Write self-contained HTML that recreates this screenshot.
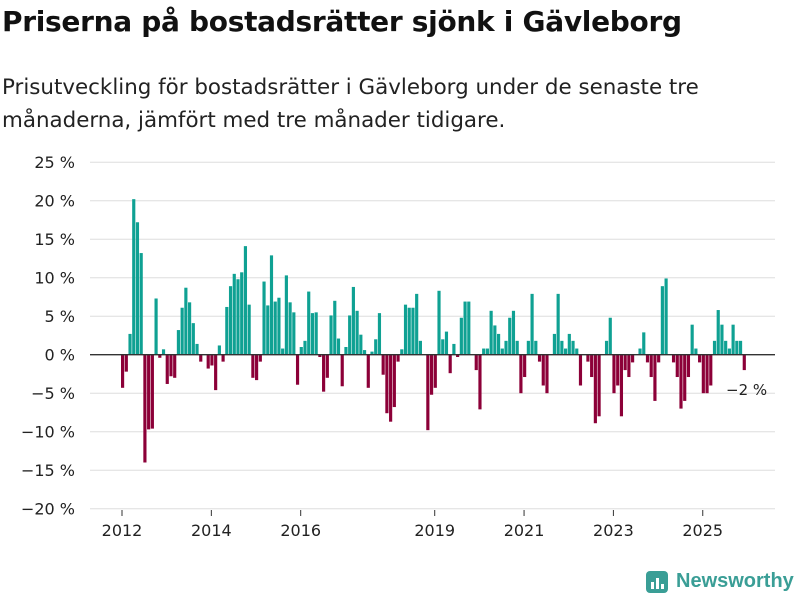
<!DOCTYPE html>
<html><head><meta charset="utf-8"><style>
body{margin:0;width:800px;height:600px;background:#fff;font-family:"Liberation Sans","DejaVu Sans",sans-serif;overflow:hidden;position:relative}
#title{position:absolute;left:2px;top:5px;font-size:28px;font-weight:bold;color:#111;font-family:"DejaVu Sans","Liberation Sans",sans-serif;letter-spacing:-0.3px}
#sub{position:absolute;left:2px;top:71px;font-size:21.4px;line-height:33px;color:#222;font-family:"DejaVu Sans","Liberation Sans",sans-serif}
svg{position:absolute;left:0;top:0}
#logo{position:absolute;left:646px;top:570px;display:flex;align-items:center;gap:8px;color:#3a9e96;font-weight:bold;font-size:20px;font-family:"Liberation Sans","DejaVu Sans",sans-serif}
</style></head><body>
<div id="title">Priserna på bostadsrätter sjönk i Gävleborg</div>
<div id="sub">Prisutveckling för bostadsrätter i Gävleborg under de senaste tre<br>månaderna, jämfört med tre månader tidigare.</div>
<svg id="chart" width="800" height="600"></svg>
<div id="logo"><svg width="22" height="22" style="position:static"><rect x="0" y="0" width="22" height="22" rx="4" fill="#3a9e96"/><rect x="5" y="11" width="3" height="7" fill="#fff"/><rect x="10" y="7" width="3" height="11" fill="#fff"/><rect x="15" y="13" width="3" height="5" fill="#fff"/></svg><span>Newsworthy</span></div>
<script>
const values=[-4.3,-2.2,2.7,20.2,17.2,13.2,-14,-9.7,-9.6,7.3,-0.4,0.7,-3.8,-2.8,-3.0,3.2,6.1,8.7,6.8,4.1,1.4,-0.9,0,-1.8,-1.4,-4.6,1.2,-0.9,
6.2,8.9,10.5,9.8,10.7,14.1,6.5,-3,-3.3,-0.9,9.5,6.4,12.9,6.9,7.4,0.8,10.3,6.8,5.5,-3.9,1,1.8,8.2,5.4,5.5,-0.3,-4.8,-3.0,
5.1,7.0,2.1,-4.1,1,5.1,8.8,5.7,2.6,0.6,-4.3,0.4,2,5.4,-2.6,-7.6,-8.7,-6.8,-0.9,0.7,6.5,6.1,6.1,7.9,1.8,0,-9.8,-5.2,
-4.3,8.3,2.0,3.0,-2.4,1.4,-0.3,4.8,6.9,6.9,0,-2,-7.1,0.8,0.8,5.7,3.8,2.7,0.8,1.8,4.8,5.7,1.8,-5.0,-2.9,1.8,7.9,1.8,
-0.9,-4.0,-5.0,0,2.7,7.9,1.8,0.8,2.7,1.8,0.8,-4.0,0,-0.9,-2.9,-8.9,-8.0,0,1.8,4.8,-5.0,-4.0,-8.0,-2.0,-2.9,-1.0,0,0.8,
2.9,-1.0,-2.9,-6.0,-1.0,8.9,9.9,0,-1.0,-2.9,-7.0,-6.0,-2.9,3.9,0.8,-1.0,-5.0,-5.0,-4.0,1.8,5.8,3.9,1.8,0.8,3.9,1.8,1.8,-2.0];
const yTicks=[25,20,15,10,5,0,-5,-10,-15,-20];
const yearLabels=["2012","2014","2016","2019","2021","2023","2025"];
const yearMonthIdx=[0,24,48,84,108,132,156];
const lastLabel="−2 %";
const svg=document.getElementById('chart');const NS='http://www.w3.org/2000/svg';
const y=v=>354.7-v*7.7;
const step=(742.7-121)/167;
const x=i=>121+i*step;
function mk(t,a){const e=document.createElementNS(NS,t);for(const k in a)e.setAttribute(k,a[k]);svg.appendChild(e);return e;}
yTicks.forEach(t=>{
 const g=mk('line',{x1:90,x2:775,y1:y(t),y2:y(t),stroke:'#dedede','stroke-width':1});
 
 
 const l=mk('text',{x:75,y:y(t)+6,'text-anchor':'end','font-size':16,fill:'#222','font-family':'"DejaVu Sans","Liberation Sans",sans-serif'});
 l.textContent=(t<0?'−'+(-t):t)+' %';
 
 
});
values.forEach((v,i)=>{
 const r=mk('rect',{x:x(i),width:step*0.85,y:Math.min(y(v),y(0)),height:Math.abs(y(v)-y(0)),fill:v>=0?'#0fa193':'#8c0038'});
 
 
});
const z=mk('line',{x1:90,x2:775,y1:y(0),y2:y(0),stroke:'#333','stroke-width':1.4});


yearLabels.forEach((lab,k)=>{
 const tk=mk('line',{x1:x(yearMonthIdx[k])+1,x2:x(yearMonthIdx[k])+1,y1:510,y2:516,stroke:'#333'});
 
 
 const t=mk('text',{x:x(yearMonthIdx[k])+1,y:536,'text-anchor':'middle','font-size':16,fill:'#222','font-family':'"DejaVu Sans","Liberation Sans",sans-serif'});
 t.textContent=lab;
 
 
});
const ll=mk('text',{x:726,y:395,'font-size':15,fill:'#222','font-family':'"DejaVu Sans","Liberation Sans",sans-serif'});
ll.textContent=lastLabel;


</script>
</body></html>
